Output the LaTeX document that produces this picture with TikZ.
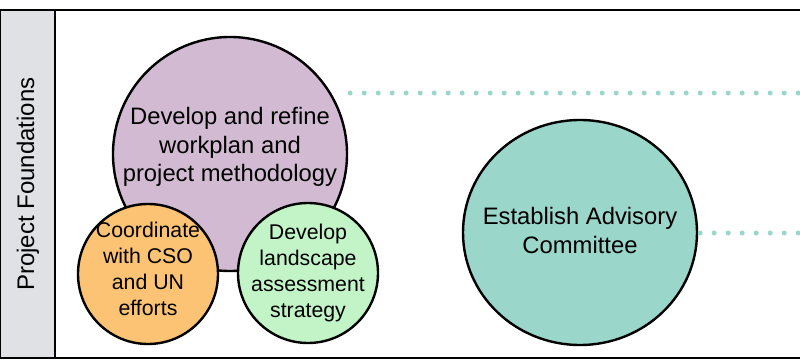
\documentclass[tikz,border=0pt]{standalone}
\usepackage{fontspec}
\setmainfont{Liberation Sans}
\usepackage{tikz}
\usetikzlibrary{positioning,shapes.geometric}

\definecolor{lanegray}{HTML}{DFE1E5}
\definecolor{planpurple}{HTML}{D2BBD2}
\definecolor{csoorange}{HTML}{FDC374}
\definecolor{landgreen}{HTML}{C3F4C7}
\definecolor{advteal}{HTML}{9AD6CA}

\tikzset{
  task/.style={circle, draw=black, line width=2.4pt, align=center, inner sep=0pt},
  bigtext/.style={font=\fontsize{23.8}{28.5}\selectfont, align=center},
  smalltext/.style={font=\fontsize{21.3}{26}\selectfont, align=center},
  dotline/.style={advteal, line width=5pt, line cap=round, dash pattern=on 0pt off 14pt}
}

\begin{document}
\begin{tikzpicture}[x=1pt, y=-1pt]
			\useasboundingbox (0,0) rectangle (800,361);
			
			% Полоса слева
			\filldraw[fill=lanegray, draw=black, line width=1pt] (0.5,10) rectangle (55,358);
			\node[rotate=90, font=\fontsize{24}{28}\selectfont] (lane) at (28,184) {Project Foundations};
			
			% Рамка дорожки
			\draw[line width=2pt] (0,10) -- (800,10);
			\draw[line width=2pt] (0,358) -- (800,358);
			\draw[line width=2.5pt] (55,10) -- (55,358);
			
			% Большой круг
			\node[task, fill=planpurple, minimum size=234pt] (plan) at (230,154) {};
			\node[bigtext] (plantext) at ([yshift=7pt]plan.center)
			  {Develop and refine\\workplan and\\project methodology};
			
			% Малые круги
			\node[task, fill=csoorange, minimum size=140pt] (cso) at (148,274) {};
			\node[smalltext] (csotext) at ([yshift=5pt]cso.center)
			  {Coordinate\\with CSO\\and UN\\efforts};
			\node[task, fill=landgreen, minimum size=140pt] (land) at (308,273) {};
			\node[smalltext] (landtext) at (land.center)
			  {Develop\\landscape\\assessment\\strategy};
			
			% Круг справа
			\node[task, ellipse, fill=advteal, minimum width=234pt, minimum height=225pt] (adv) at (580,232.5) {};
			\node[bigtext] (advtext) at ([yshift=2pt]adv.center)
			  {Establish Advisory\\Committee};
			
			% Пунктир вправо
			\coordinate (topend) at (800,93);
			\coordinate (advend) at (800,233);
			\draw[dotline] (plan.east |- topend) ++(2,0) -- (topend);
			\draw[dotline] (adv.east |- advend) ++(2,0) -- (advend);
		\end{tikzpicture}
\end{document}
